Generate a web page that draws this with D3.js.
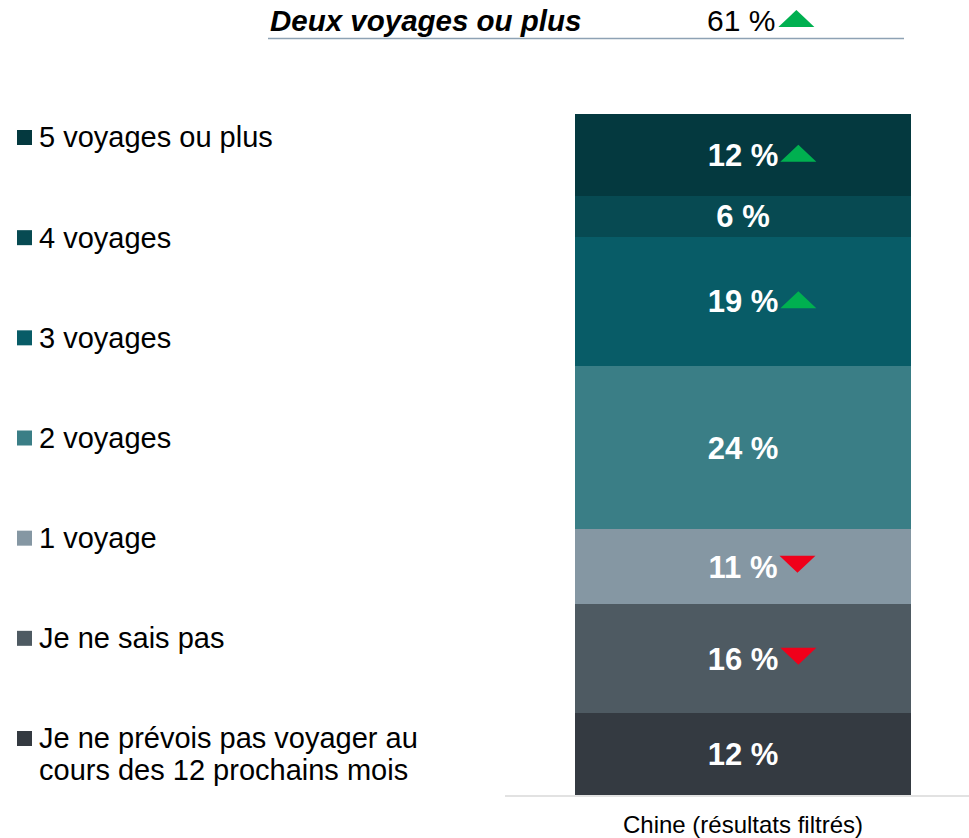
<!DOCTYPE html>
<html>
<head>
<meta charset="utf-8">
<script src="https://cdn.jsdelivr.net/npm/d3@7"></script>
<style>
  body { margin: 0; background: #fff; }
  text { font-family: Arial, "Liberation Sans", sans-serif; }
</style>
</head>
<body>
<div id="main"></div>
<script>
/// data ///
var categories = ['5 voyages ou plus', '4 voyages', '3 voyages', '2 voyages', '1 voyage',
                  'Je ne sais pas', 'Je ne prévois pas voyager au cours des 12 prochains mois'];
var values = [12, 6, 19, 24, 11, 16, 12];
var trends = ['up', null, 'up', null, 'down', 'down', null];   // change vs previous wave
var colors = ['#04393f', '#074a52', '#085c67', '#3a7e86', '#8597a3', '#4e5a62', '#343a41'];
var barName = 'Chine (résultats filtrés)';
var summaryLabel = 'Deux voyages ou plus';
var summaryValue = 61;
var summaryTrend = 'up';

const w = 969;
const h = 838;

const svg = d3.select('#main')
            .append('svg')
            .attr('width', w)
            .attr('height', h);

// stack from the bottom: last category sits on the baseline
let stacked = [];
let acc = 0;
for (let i = values.length - 1; i >= 0; i--) {
    stacked[i] = { y0: acc, y1: acc + values[i] };
    acc += values[i];
}

const y = d3.scaleLinear()
            .domain([0, 100])
            .range([795, 114]);

const x = d3.scaleBand()
            .domain([barName])
            .range([575, 911])
            .padding(0);

const bx = x(barName);
const bw = x.bandwidth();
const cx = bx + bw / 2;

// triangle drawer
function triangle(g, tx, ty, dir) {
    let tw = 36, th = 17;
    let pts = dir === 'up'
        ? [[tx, ty + th], [tx + tw / 2, ty], [tx + tw, ty + th]]
        : [[tx, ty], [tx + tw, ty], [tx + tw / 2, ty + th]];
    g.append('path')
        .attr('d', d3.line()(pts) + 'Z')
        .attr('fill', dir === 'up' ? '#00b050' : '#f0001a');
}

/// bar segments ///
svg.selectAll('rect.seg')
    .data(categories)
    .enter()
    .append('rect')
    .attr('class', 'seg')
    .attr('x', bx)
    .attr('width', bw)
    .attr('y', (d, i) => y(stacked[i].y1))
    .attr('height', (d, i) => y(stacked[i].y0) - y(stacked[i].y1))
    .attr('fill', (d, i) => colors[i])
    .attr('shape-rendering', 'crispEdges');

// value labels
svg.selectAll('text.val')
    .data(categories)
    .enter()
    .append('text')
    .attr('class', 'val')
    .attr('x', cx)
    .attr('y', (d, i) => y((stacked[i].y0 + stacked[i].y1) / 2))
    .attr('dy', '0.36em')
    .attr('text-anchor', 'middle')
    .attr('fill', '#fff')
    .style('font-weight', 'bold')
    .style('font-size', '31px')
    .text((d, i) => values[i] + ' %')
    .each(function(d, i) {
        if (!trends[i]) return;
        let len = this.getComputedTextLength();
        let my = y((stacked[i].y0 + stacked[i].y1) / 2);
        triangle(svg, cx + len / 2 + 2, trends[i] === 'up' ? my - 10 : my - 11, trends[i]);
    });

// baseline
svg.append('line')
    .attr('x1', 505).attr('x2', w)
    .attr('y1', 796).attr('y2', 796)
    .attr('stroke', '#d9d9d9')
    .attr('stroke-width', 1.5);

// category label
svg.append('text')
    .attr('x', cx)
    .attr('y', 833)
    .attr('text-anchor', 'middle')
    .style('font-size', '24px')
    .attr('fill', '#000')
    .text(barName);

/// legend ///
const ly = d3.scalePoint()
            .domain(categories)
            .range([137, 738]);

let legend = svg.selectAll('g.legendGroup')
    .data(categories)
    .enter()
    .append('g')
    .attr('class', 'legendGroup')
    .attr('transform', d => 'translate(0,' + ly(d) + ')');

legend.append('rect')
    .attr('x', 17)
    .attr('y', -7)
    .attr('width', 15)
    .attr('height', 15)
    .attr('fill', (d, i) => colors[i]);

legend.append('text')
    .attr('x', 39)
    .attr('y', 0)
    .style('font-size', '29px')
    .attr('fill', '#000')
    .each(function(d) {
        // wrap the long label on two lines
        let lines = d.length > 30
            ? ['Je ne prévois pas voyager au', 'cours des 12 prochains mois']
            : [d];
        let t = d3.select(this);
        lines.forEach((ln, k) => {
            t.append('tspan')
                .attr('x', 39)
                .attr('dy', k === 0 ? '0.36em' : '1.1em')
                .text(ln);
        });
    });

/// summary header ///
svg.append('text')
    .attr('x', 270)
    .attr('y', 31)
    .style('font-size', '29.5px')
    .style('font-weight', 'bold')
    .style('font-style', 'italic')
    .attr('fill', '#000')
    .text(summaryLabel);

let sv = svg.append('text')
    .attr('x', 707)
    .attr('y', 31)
    .style('font-size', '30px')
    .attr('fill', '#000')
    .text(summaryValue + ' %');

triangle(svg, 707 + sv.node().getComputedTextLength() + 3, 10, summaryTrend);

svg.append('line')
    .attr('x1', 268).attr('x2', 904)
    .attr('y1', 38.5).attr('y2', 38.5)
    .attr('stroke', '#8ea2b4')
    .attr('stroke-width', 1.5);
</script>
</body>
</html>
